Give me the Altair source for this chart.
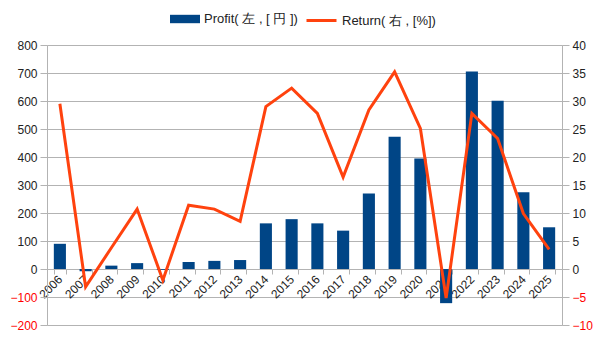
import altair as alt
import pandas as pd

years = [str(y) for y in range(2006, 2026)]
profit = [90, -8, 12, 21, -3, 25, 29, 32, 163, 178, 163, 137, 270, 472, 395, -122, 705, 601, 274, 149]
ret = [29.5, -3.2, 3.8, 10.7, -2.0, 11.4, 10.7, 8.5, 29.0, 32.3, 27.8, 16.4, 28.4, 35.2, 25.1, -5.2, 27.8, 23.3, 9.9, 3.5]

profit_name = "Profit( 左 , [ 円 ])"
return_name = "Return( 右 , [%])"

df = pd.DataFrame({"year": years, "profit": profit, "ret": ret,
                   "s1": profit_name, "s2": return_name})

FONT = "Liberation Sans"
GRID = "#b3b3b3"
neg_red = {"condition": {"test": "datum.value < 0", "value": "#ff0000"}, "value": "#222222"}

x = alt.X("year:N", sort=years, title=None,
          scale=alt.Scale(paddingInner=0.53, paddingOuter=0.265),
          axis=alt.Axis(labelAngle=-45, labelAlign="right", labelBaseline="middle",
                        offset=-56, tickBand="extent", tickSize=5, tickColor=GRID,
                        domainColor=GRID, labelPadding=3, labelFontSize=12,
                        labelColor="#222222", labelFont=FONT))

bars = alt.Chart(df).mark_bar(color="#004586").encode(
    x=x,
    y=alt.Y("profit:Q", title=None,
            scale=alt.Scale(domain=[-200, 800], nice=False, zero=False),
            axis=alt.Axis(values=list(range(-200, 801, 100)), tickSize=7, tickColor=GRID,
                          domainColor=GRID, gridColor=GRID, labelFontSize=12,
                          labelFont=FONT, labelColor=neg_red, labelPadding=3)),
    color=alt.Color("s1:N", title=None,
                    scale=alt.Scale(range=["#004586"]),
                    legend=alt.Legend(orient="none", legendX=123, legendY=-41,
                                      symbolType="M-1,-0.28H1V0.28H-1Z", symbolSize=900,
                                      symbolStrokeWidth=0, labelFont=FONT, labelFontSize=13,
                                      labelColor="#222222", padding=0, labelOffset=4)),
)

line = alt.Chart(df).mark_line(strokeWidth=3, color="#ff420e").encode(
    x=x,
    y=alt.Y("ret:Q", title=None,
            scale=alt.Scale(domain=[-10, 40], nice=False, zero=False),
            axis=alt.Axis(values=list(range(-10, 41, 5)), orient="right", grid=False,
                          tickSize=7, tickColor=GRID, domainColor=GRID, labelFontSize=12,
                          labelFont=FONT, labelColor=neg_red, labelPadding=3)),
    stroke=alt.Stroke("s2:N", title=None,
                      scale=alt.Scale(range=["#ff420e"]),
                      legend=alt.Legend(orient="none", legendX=258, legendY=-41,
                                        symbolType="stroke", symbolSize=900,
                                        symbolStrokeWidth=3, labelFont=FONT, labelFontSize=13,
                                        labelColor="#222222", padding=0, labelOffset=4)),
)

chart = alt.layer(bars, line).resolve_scale(y="independent").properties(
    width=515, height=280,
    autosize=alt.AutoSizeParams(type="none"),
    padding={"left": 47, "top": 45, "right": 42, "bottom": 15},
).configure_view(stroke=None).configure(background="white")

chart.save("out.html", embed_options={"renderer": "svg", "actions": False})
